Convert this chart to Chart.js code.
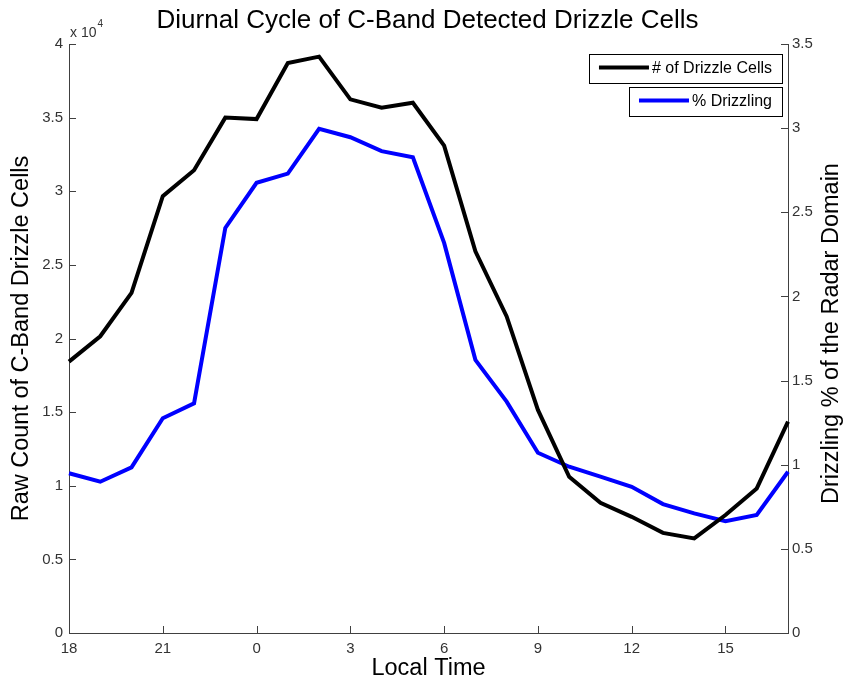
<!DOCTYPE html>
<html>
<head>
<meta charset="utf-8">
<script src="https://cdn.jsdelivr.net/npm/chart.js@4.4.1/dist/chart.umd.min.js"></script>
<style>
  body { margin: 0; background: #fff; }
  #wrap { width: 846px; height: 683px; }
</style>
</head>
<body>
<div id="wrap"><canvas id="myChart" width="846" height="683"></canvas></div>
<script>
// data (one point per local hour)
const hours = [18, 19, 20, 21, 22, 23, 0, 1, 2, 3, 4, 5, 6, 7, 8, 9, 10, 11, 12, 13, 14, 15, 16, 17];
const drizzleCells = [18430, 20150, 23100, 29660, 31430, 35000, 34900, 38700, 39140, 36240, 35670, 36010,
                      33100, 25920, 21500, 15150, 10610, 8840, 7890, 6800, 6420, 8010, 9820, 14350];
const pctDrizzling = [0.949, 0.899, 0.984, 1.276, 1.365, 2.407, 2.675, 2.730, 2.996, 2.946, 2.863, 2.827,
                      2.318, 1.623, 1.375, 1.071, 0.988, 0.929, 0.869, 0.766, 0.711, 0.665, 0.701, 0.958];
const leftTicksMax = 40000;
const rightTicksMax = 3.5;

const FONT = "'Liberation Sans', Arial, Helvetica, sans-serif";
const axisColor = '#404040';
const tickColor = '#333333';

// titulos, ticks hacia adentro y leyenda estilo matlab
const decor = {
  id: 'decor',
  afterDraw(chart) {
    const { ctx, chartArea: a, scales } = chart;
    ctx.save();

    ctx.strokeStyle = axisColor;
    ctx.lineWidth = 1;
    ctx.beginPath();
    scales.y.ticks.forEach(t => {
      const p = Math.round(scales.y.getPixelForValue(t.value)) + 0.5;
      ctx.moveTo(a.left, p); ctx.lineTo(a.left + 7, p);
    });
    scales.y1.ticks.forEach(t => {
      const p = Math.round(scales.y1.getPixelForValue(t.value)) + 0.5;
      ctx.moveTo(a.right, p); ctx.lineTo(a.right - 7, p);
    });
    hours.forEach((h, i) => {
      if (h % 3 !== 0) return;
      const p = Math.round(scales.x.getPixelForValue(i)) + 0.5;
      ctx.moveTo(p, a.bottom); ctx.lineTo(p, a.bottom - 7);
    });
    ctx.stroke();

    // titulo
    ctx.fillStyle = '#000';
    ctx.font = `26px ${FONT}`;
    ctx.textAlign = 'center';
    ctx.textBaseline = 'middle';
    ctx.fillText('Diurnal Cycle of C-Band Detected Drizzle Cells', (a.left + a.right) / 2 - 1, 21);

    // titulo eje derecho
    ctx.save();
    ctx.translate(832, (a.top + a.bottom) / 2 - 5);
    ctx.rotate(-Math.PI / 2);
    ctx.font = `23.5px ${FONT}`;
    ctx.fillText('Drizzling % of the Radar Domain', 0, 0);
    ctx.restore();

    // x 10^4
    ctx.fillStyle = tickColor;
    ctx.textAlign = 'left';
    ctx.textBaseline = 'alphabetic';
    ctx.font = `14px ${FONT}`;
    ctx.fillText('x 10', a.left + 1, 37);
    const w = ctx.measureText('x 10').width;
    ctx.font = `10px ${FONT}`;
    ctx.fillText('4', a.left + 2 + w, 27);

    // leyenda: una caja por serie
    const right = a.right - 6;
    let top = a.top + 10;
    ctx.font = `16px ${FONT}`;
    chart.data.datasets.forEach(ds => {
      const tw = ctx.measureText(ds.label).width;
      const bw = 10 + 50 + 3 + tw + 10;
      const left = right - bw;
      const h = 29;
      ctx.fillStyle = '#fff';
      ctx.fillRect(left, top, bw, h);
      ctx.strokeStyle = '#000';
      ctx.lineWidth = 1;
      ctx.strokeRect(Math.round(left) + 0.5, top + 0.5, Math.round(bw), h);
      ctx.strokeStyle = ds.borderColor;
      ctx.lineWidth = 4;
      ctx.beginPath();
      ctx.moveTo(left + 10, top + 13.5);
      ctx.lineTo(left + 60, top + 13.5);
      ctx.stroke();
      ctx.fillStyle = '#000';
      ctx.textBaseline = 'middle';
      ctx.fillText(ds.label, left + 63, top + 15);
      top += 33;
    });

    ctx.restore();
  }
};

const chartData = {
  labels: hours,
  datasets: [{
    label: '# of Drizzle Cells',
    data: drizzleCells,
    yAxisID: 'y',
    borderColor: '#000000',
    borderWidth: 4,
    pointRadius: 0,
    tension: 0,
    fill: false
  },
  {
    label: '% Drizzling',
    data: pctDrizzling,
    yAxisID: 'y1',
    borderColor: '#0000ff',
    borderWidth: 4,
    pointRadius: 0,
    tension: 0,
    fill: false
  }]
};

const config = {
  type: 'line',
  data: chartData,
  options: {
    responsive: false,
    animation: false,
    devicePixelRatio: 1,
    layout: { padding: { top: 44, left: 0, right: 0, bottom: 0 } },
    plugins: {
      legend: { display: false },
      title: { display: false },
      tooltip: { enabled: false }
    },
    scales: {
      x: {
        type: 'category',
        offset: false,
        grid: { drawOnChartArea: false, drawTicks: false },
        border: { display: true, color: axisColor, width: 1 },
        ticks: {
          autoSkip: false,
          maxRotation: 0,
          padding: 7,
          color: tickColor,
          font: { family: FONT, size: 15 },
          callback: (v, i) => (hours[i] % 3 === 0 ? String(hours[i]) : '')
        },
        title: {
          display: true,
          text: 'Local Time',
          color: '#000',
          font: { family: FONT, size: 23.5 },
          padding: { top: 0, bottom: 0 }
        },
        afterFit: s => { s.height = 50; }
      },
      y: {
        position: 'left',
        min: 0,
        max: leftTicksMax,
        grid: { drawOnChartArea: false, drawTicks: false },
        border: { display: true, color: axisColor, width: 1 },
        ticks: {
          stepSize: 5000,
          padding: 6,
          color: tickColor,
          font: { family: FONT, size: 15 },
          callback: v => String(v / 10000)
        },
        title: {
          display: true,
          text: 'Raw Count of C-Band Drizzle Cells',
          color: '#000',
          font: { family: FONT, size: 23.5 },
          padding: { top: 7, bottom: 0 }
        },
        afterFit: s => { s.width = 69; }
      },
      y1: {
        position: 'right',
        min: 0,
        max: rightTicksMax,
        grid: { drawOnChartArea: false, drawTicks: false },
        border: { display: true, color: axisColor, width: 1 },
        ticks: {
          stepSize: 0.5,
          padding: 4,
          color: tickColor,
          font: { family: FONT, size: 15 },
          callback: v => String(v)
        },
        afterFit: s => { s.width = 58; }
      }
    }
  },
  plugins: [decor]
};

const myChart = new Chart(document.getElementById('myChart'), config);
</script>
</body>
</html>
